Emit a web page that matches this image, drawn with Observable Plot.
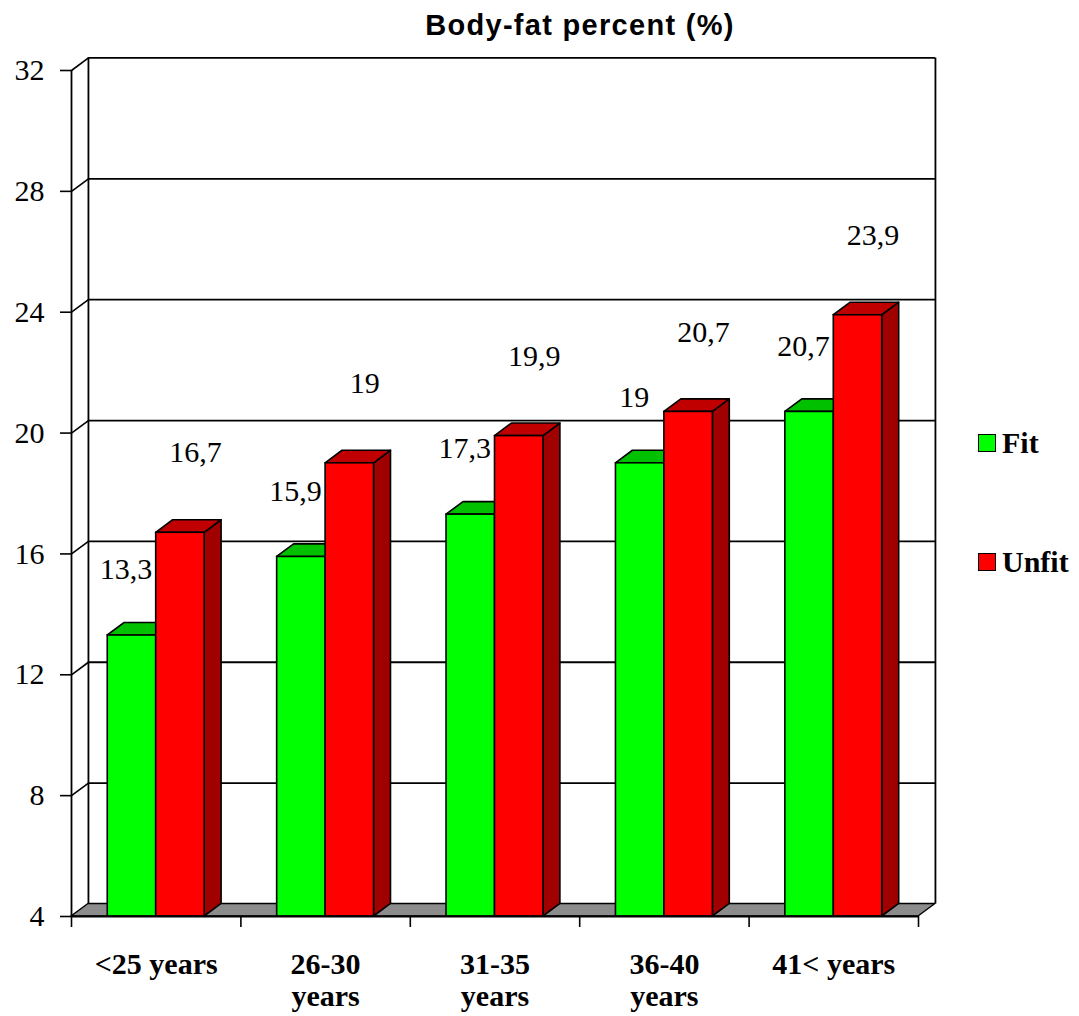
<!DOCTYPE html>
<html>
<head>
<meta charset="utf-8">
<script src="https://cdn.jsdelivr.net/npm/d3@7"></script>
<script src="https://cdn.jsdelivr.net/npm/@observablehq/plot@0.6"></script>
<style>
  html, body { margin: 0; padding: 0; background: #fff; }
  #wrap { position: relative; width: 1079px; height: 1016px; overflow: hidden; }
  #title { position: absolute; left: 0; width: 1160px; top: 8px; text-align: center;
           font-family: "Liberation Sans", Arial, sans-serif; font-weight: bold; font-size: 29px;
           letter-spacing: 1.3px; line-height: 34px; color: #000; }
  #legend { position: absolute; left: 978px; top: 425px; font-family: "Liberation Serif", "Times New Roman", serif;
            font-weight: bold; font-size: 30px; color: #000; }
  .item { display: flex; align-items: center; height: 36px; margin-bottom: 83px; }
  .sw { width: 16px; height: 16px; border: 1px solid #000; margin-right: 6px; box-sizing: content-box; }
</style>
</head>
<body>
<div id="wrap">
  <div id="chart"></div>
  <div id="title"></div>
  <div id="legend"></div>
</div>
<script>
// ---- data ----
const title = "Body-fat percent (%)";
const categories = ["<25 years", "26-30 years", "31-35 years", "36-40 years", "41< years"];
const axisLabels = ["<25 years", "26-30\nyears", "31-35\nyears", "36-40\nyears", "41< years"];
const series = ["Fit", "Unfit"];
const fit = [13.3, 15.9, 17.3, 19, 20.7];
const unfit = [16.7, 19, 19.9, 20.7, 23.9];
const fitLabels = ["13,3", "15,9", "17,3", "19", "20,7"];
const unfitLabels = ["16,7", "19", "19,9", "20,7", "23,9"];
const yTicks = [4, 8, 12, 16, 20, 24, 28, 32];

// ---- styling / geometry ----
const frontColors = ["#00ff00", "#ff0000"];
const topColors = ["#00c000", "#c00000"];
const sideColors = ["#009000", "#a00000"];
const n = categories.length;
const yMin = yTicks[0], yMax = yTicks[yTicks.length - 1];
const BW = 0.286;   // bar width in category units
const DX = 0.1;     // depth offset (x units)
const DY = 0.415;   // depth offset (y units)
const serif = "'Liberation Serif', 'Times New Roman', serif";

const values = [fit, unfit];
const labels = [fitLabels, unfitLabels];

const bars = [];
series.forEach((s, si) => {
  categories.forEach((c, i) => {
    const x1 = si === 0 ? i + 0.5 - BW : i + 0.5;
    const x2 = x1 + BW;
    bars.push({id: s + i, si, i, x1, x2, v: values[si][i], label: labels[si][i]});
  });
});

function sides(si) {
  return bars.filter(b => b.si === si).flatMap(b => [
    {id: b.id, x: b.x2, y1: yMin, y2: b.v},
    {id: b.id, x: b.x2 + DX, y1: yMin + DY, y2: b.v + DY}
  ]);
}
function tops(si) {
  return bars.filter(b => b.si === si).flatMap(b => [
    {id: b.id, y: b.v, x1: b.x1, x2: b.x2},
    {id: b.id, y: b.v + DY, x1: b.x1 + DX, x2: b.x2 + DX}
  ]);
}
const floor = [
  {y: yMin, x1: 0, x2: n},
  {y: yMin + DY, x1: DX, x2: n + DX}
];

const barMarks = [];
series.forEach((s, si) => {
  barMarks.push(
    Plot.areaY(sides(si), {x: "x", y1: "y1", y2: "y2", z: "id", fill: sideColors[si], stroke: "#000", strokeWidth: 1.6, curve: "linear"}),
    Plot.areaX(tops(si), {y: "y", x1: "x1", x2: "x2", z: "id", fill: topColors[si], stroke: "#000", strokeWidth: 1.6, curve: "linear"}),
    Plot.rect(bars.filter(b => b.si === si), {x1: "x1", x2: "x2", y1: yMin, y2: "v", fill: frontColors[si], stroke: "#000", strokeWidth: 1.6})
  );
});

const chart = Plot.plot({
  width: 1079,
  height: 1016,
  marginLeft: 71,
  marginRight: 161,
  marginTop: 70,
  marginBottom: 100,
  style: {fontFamily: serif, background: "#fff", overflow: "visible"},
  x: {type: "linear", domain: [0, n]},
  y: {type: "linear", domain: [yMin, yMax]},
  marks: [
    // back wall gridlines
    Plot.ruleY(yTicks.slice(1), {y: d => d + DY, x1: DX, x2: n + DX, stroke: "#000", strokeWidth: 1.8}),
    // side walls
    Plot.ruleX([DX, n + DX], {y1: yMin + DY, y2: yMax + DY, stroke: "#000", strokeWidth: 1.8}),
    // connectors from front axis to back wall
    Plot.link(yTicks, {x1: 0, y1: d => d, x2: DX, y2: d => d + DY, stroke: "#000", strokeWidth: 1.6}),
    // floor
    Plot.areaX(floor, {y: "y", x1: "x1", x2: "x2", fill: "#8c8c8c", stroke: "#000", strokeWidth: 1.4, curve: "linear"}),
    // bars
    ...barMarks,
    // front axes
    Plot.ruleX([0], {y1: yMin, y2: yMax, stroke: "#000", strokeWidth: 1.8}),
    Plot.ruleY([yMin], {x1: 0, x2: n, stroke: "#000", strokeWidth: 1.8}),
    Plot.axisY({ticks: yTicks, tickSize: 11, tickPadding: 16, label: null, fontSize: 30, stroke: "#000", strokeWidth: 1.6, tickFormat: d => String(d)}),
    Plot.axisX({ticks: d3.range(n + 1), tickSize: 11, tickFormat: () => "", label: null, strokeWidth: 1.6}),
    Plot.axisX({ticks: d3.range(n).map(i => i + 0.5), tickSize: 0, tickPadding: 34, label: null,
      tickFormat: d => axisLabels[Math.floor(d)], fontSize: 30, fontWeight: "bold", lineHeight: 1.08}),
    // value labels
    Plot.text(bars.filter(b => b.si === 0), {x: d => (d.x1 + d.x2) / 2, y: "v", text: "label", dx: -6, dy: -66, fontSize: 30, fill: "#000"}),
    Plot.text(bars.filter(b => b.si === 1), {x: d => (d.x1 + d.x2) / 2, y: "v", text: "label", dx: 15, dy: -80, fontSize: 30, fill: "#000"})
  ]
});
document.getElementById("chart").appendChild(chart);

document.getElementById("title").textContent = title;
const legend = document.getElementById("legend");
series.forEach((s, si) => {
  const item = document.createElement("div");
  item.className = "item";
  const sw = document.createElement("div");
  sw.className = "sw";
  sw.style.background = frontColors[si];
  const t = document.createElement("span");
  t.textContent = s;
  item.appendChild(sw);
  item.appendChild(t);
  legend.appendChild(item);
});
</script>
</body>
</html>
